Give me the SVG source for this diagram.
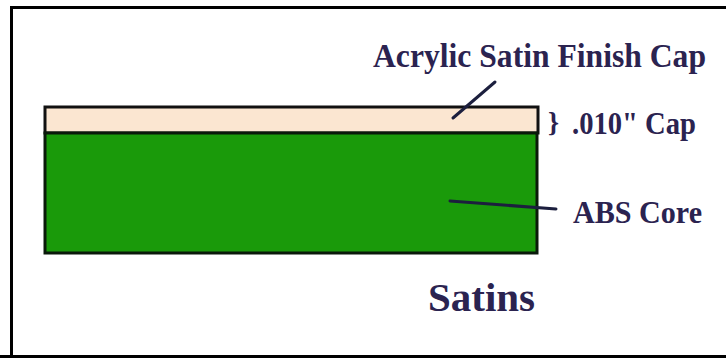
<svg xmlns="http://www.w3.org/2000/svg" width="726" height="358" viewBox="0 0 726 358">
<style>
.lbl{font-family:"Liberation Serif","Times New Roman",serif;font-weight:bold;fill:#2b2350}
.lead{stroke:#1c1f3e;stroke-width:3;fill:none;stroke-linecap:round}
</style>
<rect x="0" y="0" width="726" height="358" fill="#ffffff"/>
<path d="M11.5 358 V7.5 H726" fill="none" stroke="#000" stroke-width="3"/>
<line x1="0" y1="356.5" x2="726" y2="356.5" stroke="#000" stroke-width="3"/>
<g id="cap">
<rect x="45" y="107" width="493" height="26" fill="#fbe6d1" stroke="#111" stroke-width="3"/>
</g>
<g id="core">
<rect x="45" y="133" width="492" height="120" fill="#1a9a0a" stroke="#0a1a0a" stroke-width="3"/>
</g>
<g id="connectors">
<line class="lead" x1="453" y1="118" x2="495" y2="82"/>
<line class="lead" x1="450" y1="201" x2="556" y2="209"/>
</g>
<g id="labels">
<text class="lbl" x="373" y="67" font-size="33" textLength="333" lengthAdjust="spacingAndGlyphs">Acrylic Satin Finish Cap</text>
<text class="lbl" x="548" y="131" font-size="28" font-weight="normal">}</text>
<text class="lbl" x="572" y="134" font-size="32" textLength="124" lengthAdjust="spacingAndGlyphs">.010" Cap</text>
<text class="lbl" x="573" y="223" font-size="32" textLength="129" lengthAdjust="spacingAndGlyphs">ABS Core</text>
<text class="lbl" x="428" y="311" font-size="40" textLength="107" lengthAdjust="spacingAndGlyphs">Satins</text>
</g>
</svg>
